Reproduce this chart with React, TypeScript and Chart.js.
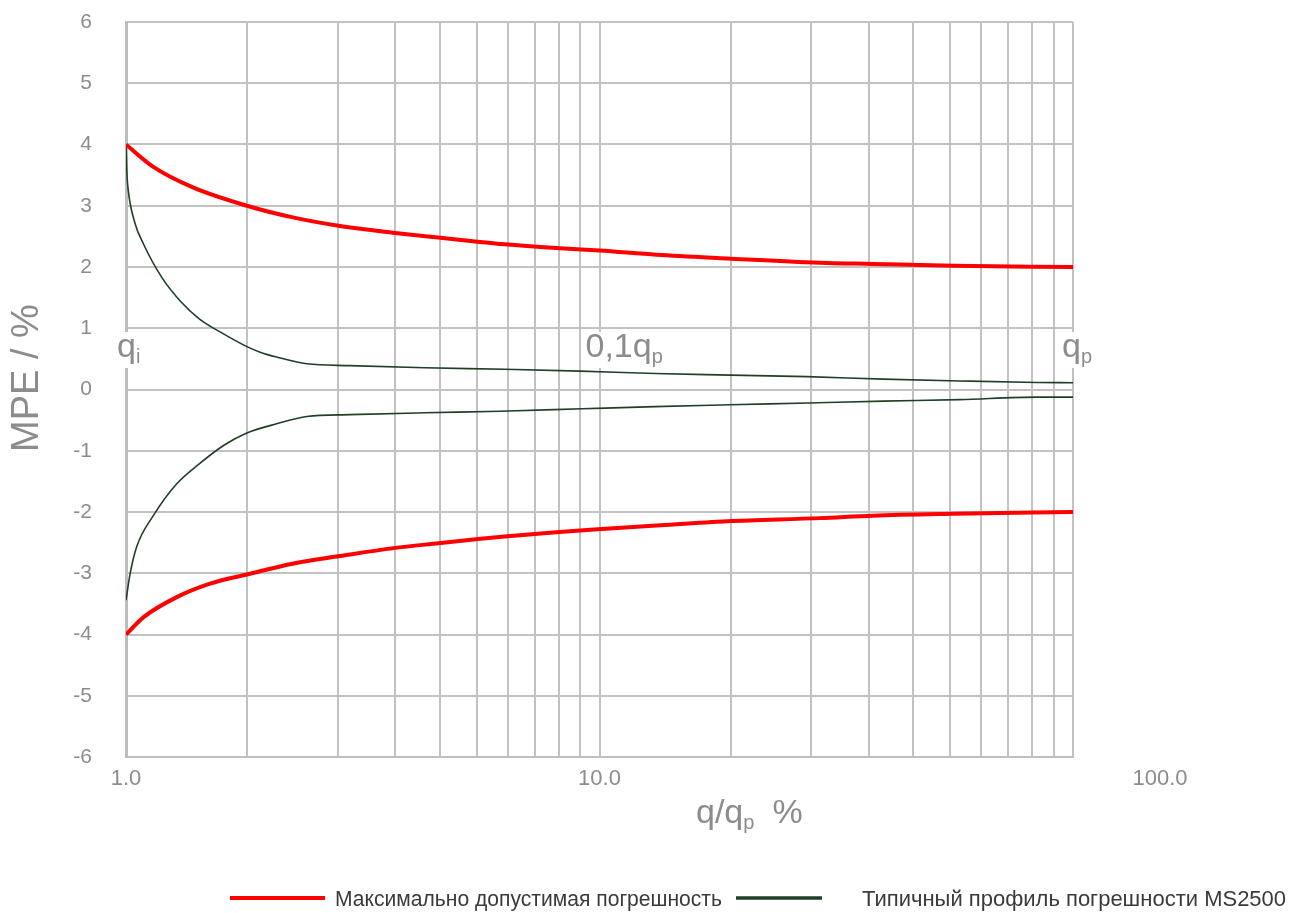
import React, { useEffect, useRef } from 'react';
import { Chart, registerables } from 'chart.js';

Chart.register(...registerables);

// ---- Data ----
const mpeUpperX = [1, 1.14, 1.385, 1.8, 2.25, 2.83, 3.66, 4.56, 5.4, 6.3, 8.1, 10, 13.2, 18.6, 29.2, 37.8, 55.8, 100];
const mpeUpperY = [4.0, 3.64, 3.3, 3.0, 2.81, 2.67, 2.56, 2.48, 2.42, 2.37, 2.31, 2.27, 2.2, 2.14, 2.07, 2.05, 2.02, 2.0];

const mpeLowerX = [1, 1.088, 1.28, 1.505, 1.8, 2.26, 2.83, 3.67, 4.57, 5.42, 6.3, 8.1, 9.56, 13.2, 18.6, 29.2, 37.8, 55.8, 100];
const mpeLowerY = [-4.0, -3.72, -3.39, -3.17, -3.02, -2.84, -2.72, -2.59, -2.51, -2.45, -2.4, -2.33, -2.29, -2.22, -2.15, -2.1, -2.06, -2.03, -2.0];

const typUpperX = [1, 1.004, 1.011, 1.045, 1.088, 1.19, 1.3, 1.43, 1.58, 1.8, 1.92, 2.08, 2.41, 2.97, 4.28, 6.3, 9.1, 13.1, 18.9, 27.4, 39.8, 57.7, 84, 100];
const typUpperY = [4.0, 3.55, 3.25, 2.71, 2.38, 1.83, 1.45, 1.15, 0.94, 0.7, 0.61, 0.53, 0.42, 0.39, 0.355, 0.33, 0.3, 0.26, 0.235, 0.21, 0.17, 0.14, 0.115, 0.11];

const typLowerX = [1, 1.02, 1.053, 1.142, 1.28, 1.43, 1.61, 1.8, 2.08, 2.41, 2.97, 4.28, 6.16, 9.2, 13.1, 18.9, 27.6, 39.8, 57.7, 84, 100];
const typLowerY = [-3.44, -3.01, -2.57, -2.06, -1.54, -1.21, -0.91, -0.71, -0.56, -0.44, -0.41, -0.38, -0.355, -0.315, -0.28, -0.25, -0.22, -0.19, -0.165, -0.125, -0.125];

const xGridValues = [1, 1.8, 2.8, 3.7, 4.6, 5.5, 6.4, 7.3, 8.2, 9.1, 10, 19, 28, 37, 46, 55, 64, 73, 82, 91, 100];
const xTickValues = [1, 10, 100];
const xTickLabels = ['1.0', '10.0', '100.0'];
const seriesLabels = ['Максимально допустимая погрешность', 'Типичный профиль погрешности MS2500'];
const yTitle = 'MPE / %';

const FONT = '"Liberation Sans", Arial, sans-serif';
const GRAY = '#8c8c8c';
const RED = '#ff0000';
const GREEN = '#1f3f26';

const toPoints = (xs: number[], ys: number[]) => xs.map((x, i) => ({ x, y: ys[i] }));

function drawSub(ctx: CanvasRenderingContext2D, main: string, sub: string, x: number, base: number, mainSize: number, subSize: number) {
  ctx.font = `${mainSize}px ${FONT}`;
  ctx.fillText(main, x, base);
  const w = ctx.measureText(main).width;
  ctx.font = `${subSize}px ${FONT}`;
  ctx.fillText(sub, x + w, base + subSize * 0.3);
  return w + ctx.measureText(sub).width;
}

const overlayPlugin = {
  id: 'overlay',
  afterDraw(chart: any) {
    const { ctx, chartArea, scales } = chart;
    const xs = scales.x;
    ctx.save();
    ctx.textBaseline = 'alphabetic';
    // x tick labels
    ctx.fillStyle = GRAY;
    ctx.font = `22px ${FONT}`;
    ctx.textAlign = 'center';
    xTickValues.forEach((v, i) => {
      const px = xs.getPixelForValue(v) + (i === 2 ? 87 : 0);
      ctx.fillText(xTickLabels[i], px, chartArea.bottom + 28);
    });
    ctx.textAlign = 'left';

    // x axis title: q/qp  %
    const tx = 696;
    const tb = chartArea.bottom + 66;
    const w = drawSub(ctx, 'q/q', 'p', tx, tb, 34, 20);
    ctx.font = `34px ${FONT}`;
    ctx.fillText('%', tx + w + 18, tb);

    // y axis title
    ctx.save();
    ctx.translate(28, 378);
    ctx.rotate(-Math.PI / 2);
    ctx.textAlign = 'center';
    ctx.textBaseline = 'middle';
    ctx.font = `38px ${FONT}`;
    ctx.fillText(yTitle, 0, 0);
    ctx.restore();

    // point labels qi, 0,1qp, qp with white boxes
    const base = 357;
    const labels = [
      { main: 'q', sub: 'i', x: xs.getPixelForValue(1) - 9 },
      { main: '0,1q', sub: 'p', x: xs.getPixelForValue(10) - 14 },
      { main: 'q', sub: 'p', x: xs.getPixelForValue(100) - 11 },
    ];
    labels.forEach((l) => {
      ctx.font = `34px ${FONT}`;
      const mw = ctx.measureText(l.main).width;
      ctx.font = `20px ${FONT}`;
      const sw = ctx.measureText(l.sub).width;
      ctx.fillStyle = '#ffffff';
      ctx.fillRect(l.x - 3, base - 25, mw + sw + 6, 36);
      ctx.fillStyle = GRAY;
      drawSub(ctx, l.main, l.sub, l.x, base, 34, 20);
    });

    // legend
    const ly = 898;
    ctx.lineCap = 'butt';
    ctx.strokeStyle = RED;
    ctx.lineWidth = 4;
    ctx.beginPath(); ctx.moveTo(230, ly); ctx.lineTo(325, ly); ctx.stroke();
    ctx.strokeStyle = GREEN;
    ctx.lineWidth = 3.5;
    ctx.beginPath(); ctx.moveTo(736, ly); ctx.lineTo(822, ly); ctx.stroke();
    ctx.fillStyle = '#3a3a3a';
    ctx.font = `22px ${FONT}`;
    ctx.fillText(seriesLabels[0], 335, ly + 8, 387);
    ctx.fillText(seriesLabels[1], 862, ly + 8, 425);
    ctx.restore();
  },
};

export default function App() {
  const ref = useRef<HTMLCanvasElement | null>(null);
  useEffect(() => {
    if (!ref.current) return;
    const chart = new Chart(ref.current, {
      type: 'line',
      data: {
        datasets: [
          { label: seriesLabels[0], data: toPoints(mpeUpperX, mpeUpperY), borderColor: RED, borderWidth: 4, pointRadius: 0, cubicInterpolationMode: 'monotone', fill: false },
          { label: seriesLabels[0] + ' (-)', data: toPoints(mpeLowerX, mpeLowerY), borderColor: RED, borderWidth: 4, pointRadius: 0, cubicInterpolationMode: 'monotone', fill: false },
          { label: seriesLabels[1], data: toPoints(typUpperX, typUpperY), borderColor: GREEN, borderWidth: 1.6, pointRadius: 0, cubicInterpolationMode: 'monotone', fill: false },
          { label: seriesLabels[1] + ' (-)', data: toPoints(typLowerX, typLowerY), borderColor: GREEN, borderWidth: 1.6, pointRadius: 0, cubicInterpolationMode: 'monotone', fill: false },
        ],
      } as any,
      options: {
        animation: false,
        responsive: false,
        devicePixelRatio: 1,
        layout: { padding: { left: 66, right: 235, top: 22, bottom: 156 } },
        plugins: { legend: { display: false }, tooltip: { enabled: false } },
        scales: {
          x: {
            type: 'logarithmic',
            min: 1,
            max: 100,
            afterBuildTicks: (s: any) => { s.ticks = xGridValues.map((v) => ({ value: v })); },
            afterFit: (s: any) => { s.height = 0; s.paddingLeft = 0; s.paddingRight = 0; },
            ticks: { display: false },
            grid: { color: '#c2c2c2', lineWidth: 2, drawTicks: false },
            border: { color: '#bdbdbd', width: 2 },
          },
          y: {
            type: 'linear',
            min: -6,
            max: 6,
            afterFit: (s: any) => { s.width = 60; s.paddingTop = 0; s.paddingBottom = 0; },
            ticks: { stepSize: 1, padding: 34, color: GRAY, font: { family: FONT, size: 21 } },
            grid: { color: '#c2c2c2', lineWidth: 2, drawTicks: false },
            border: { color: '#bdbdbd', width: 3 },
          },
        },
      } as any,
      plugins: [overlayPlugin],
    });
    return () => chart.destroy();
  }, []);
  return (
    <div style={{ position: 'fixed', left: 0, top: 0, width: 1308, height: 913, background: '#fff' }}>
      <canvas ref={ref} width={1308} height={913} />
    </div>
  );
}
